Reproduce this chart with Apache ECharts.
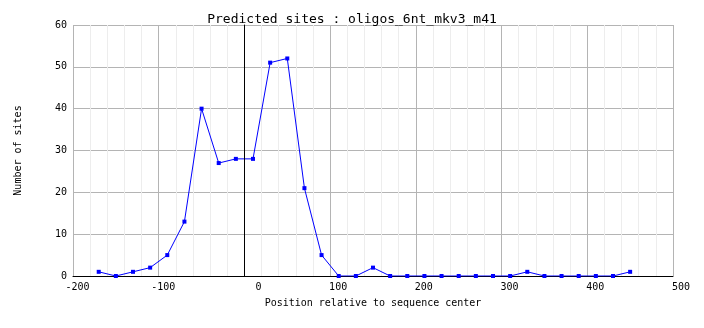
<!DOCTYPE html>
<html>
<head>
<meta charset="utf-8">
<script src="https://cdn.jsdelivr.net/npm/echarts@6/dist/echarts.min.js"></script>
<style>
html,body{margin:0;padding:0;background:#fff;}
#c{width:704px;height:328px;}
</style>
</head>
<body>
<div id="c"></div>
<script>
var titleText = 'Predicted sites : oligos_6nt_mkv3_m41';
var xTitle = 'Position relative to sequence center';
var yTitle = 'Number of sites';
var positions = [-170,-150,-130,-110,-90,-70,-50,-30,-10,10,30,50,70,90,110,130,150,170,190,210,230,250,270,290,310,330,350,370,390,410,430,450];
var sites = [1,0,1,2,5,13,40,27,28,28,51,52,21,5,0,0,2,0,0,0,0,0,0,0,0,1,0,0,0,0,0,1];
var xTicks = [-200,-100,0,100,200,300,400,500];
var yTicks = [0,10,20,30,40,50,60];
var centerPos = 0;

var mono = '"DejaVu Sans Mono", "Liberation Mono", monospace';
var chart = echarts.init(document.getElementById('c'), null, {renderer:'canvas'});
var pts = positions.map(function(p,i){return [p, sites[i]];});
chart.setOption({
  animation:false,
  backgroundColor:'#ffffff',
  title:{
    text:titleText, left:'center', top:8,
    textStyle:{fontFamily:mono, fontSize:13, fontWeight:'normal', color:'#000'}
  },
  grid:{left:73, right:31, top:25, bottom:52, containLabel:false},
  xAxis:{
    type:'value', min:xTicks[0], max:xTicks[xTicks.length-1], interval:100,
    name:xTitle, nameLocation:'middle', nameGap:22,
    nameTextStyle:{fontFamily:mono, fontSize:10, color:'#000'},
    axisLine:{show:true, lineStyle:{color:'#000', width:1}},
    axisTick:{show:false},
    axisLabel:{
      margin:6, color:'#000', fontFamily:mono, fontSize:10,
      formatter:function(v){
        if(v===0) return '{z|0}';
        if(v<0) return '{n|'+v+'}';
        return '{p|'+v+'}';
      },
      rich:{
        z:{fontFamily:mono, fontSize:10, color:'#000', padding:[0,0,0,28]},
        n:{fontFamily:mono, fontSize:10, color:'#000', padding:[0,0,0,9]},
        p:{fontFamily:mono, fontSize:10, color:'#000', padding:[0,0,0,16]}
      }
    },
    splitLine:{show:true, lineStyle:{color:'#b4b4b4', width:1}},
    minorTick:{show:false, splitNumber:5},
    minorSplitLine:{show:true, lineStyle:{color:'#ededed', width:1}}
  },
  yAxis:{
    type:'value', min:yTicks[0], max:yTicks[yTicks.length-1], interval:10,
    name:yTitle, nameLocation:'middle', nameGap:50, nameRotate:90,
    nameTextStyle:{fontFamily:mono, fontSize:10, color:'#000'},
    axisLine:{show:true, lineStyle:{color:'#000', width:1}},
    axisTick:{show:false},
    axisLabel:{margin:6, color:'#000', fontFamily:mono, fontSize:10, padding:[5,0,0,0]},
    splitLine:{show:true, lineStyle:{color:'#b4b4b4', width:1}}
  },
  series:[{
    type:'line', data:pts,
    symbol:'rect', symbolSize:4, showSymbol:true,
    lineStyle:{color:'#0000ff', width:1},
    itemStyle:{color:'#0000ff'},
    markLine:{
      silent:true, symbol:['none','none'],
      label:{show:false},
      lineStyle:{color:'#000', width:1, type:'solid'},
      data:[{xAxis:centerPos}]
    },
    z:3
  }]
});
</script>
</body>
</html>
